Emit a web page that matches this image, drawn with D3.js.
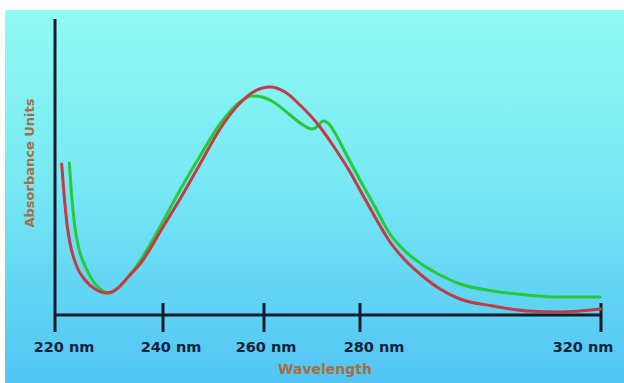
<!DOCTYPE html>
<html><head><meta charset="utf-8">
<script src="https://cdn.jsdelivr.net/npm/d3@7"></script>
<style>html,body{margin:0;padding:0;background:#fff;}svg{display:block;}</style>
</head><body>
<svg id="chart" width="624" height="383"></svg>
<script>
// ---- data ----
const tickValues = [220, 240, 260, 280, 320];
const tickLabels = ["220 nm", "240 nm", "260 nm", "280 nm", "320 nm"];
const xTitle = "Wavelength";
const yTitle = "Absorbance Units";

const redWavelength = [221.24, 221.67, 222.22, 222.78, 224.07, 225.56, 227.41, 229.63, 231.67, 233.52, 235.74, 240, 243.37, 247.33, 251.29, 255.25, 258.22, 261.25, 264.38, 267.5, 271.67, 273.75, 275.83, 277.92, 280, 282.49, 284.98, 287.47, 289.96, 293.28, 296.6, 302.07, 307.72, 313.2, 320];
const redAbsorbance = [0.755, 0.605, 0.455, 0.36, 0.24, 0.175, 0.13, 0.11, 0.135, 0.19, 0.255, 0.44, 0.58, 0.755, 0.93, 1.06, 1.12, 1.14, 1.115, 1.05, 0.94, 0.87, 0.795, 0.715, 0.625, 0.49, 0.365, 0.275, 0.205, 0.13, 0.08, 0.045, 0.02, 0.015, 0.03];

const greenWavelength = [222.65, 223.06, 223.61, 224.44, 225.56, 227.04, 228.89, 230.19, 232.04, 235.74, 239.44, 243.37, 247.33, 251.29, 255.25, 257.62, 259.6, 262.29, 265.42, 268.13, 270, 271.25, 272.29, 273.33, 274.79, 276.88, 280, 282.49, 284.98, 287.47, 289.96, 293.28, 296.6, 302.07, 307.72, 313.2, 319.83];
const greenAbsorbance = [0.76, 0.605, 0.455, 0.33, 0.245, 0.17, 0.12, 0.11, 0.145, 0.27, 0.44, 0.625, 0.795, 0.955, 1.065, 1.095, 1.09, 1.06, 1.0, 0.95, 0.93, 0.945, 0.97, 0.96, 0.91, 0.815, 0.675, 0.54, 0.405, 0.32, 0.26, 0.2, 0.155, 0.12, 0.10, 0.09, 0.09];

// ---- layout ----
const svg = d3.select("#chart");
const W = 624, H = 383;
const labelDx = [9, 8, 2, 14, -18];

const defs = svg.append("defs");
const grad = defs.append("linearGradient").attr("id", "bg").attr("x1", 0).attr("y1", 0).attr("x2", 0).attr("y2", 1);
grad.append("stop").attr("offset", "0%").attr("stop-color", "#90fbf2");
grad.append("stop").attr("offset", "45%").attr("stop-color", "#78e9f4");
grad.append("stop").attr("offset", "100%").attr("stop-color", "#51c4f4");

svg.append("rect").attr("x", 5).attr("y", 10).attr("width", W - 5).attr("height", H - 10).attr("fill", "url(#bg)");

const x = d3.scaleLinear().domain(tickValues).range([55, 163, 264, 360, 601]);
const y = d3.scaleLinear().domain([0, 1.48]).range([315, 19]);

const axisColor = "#101c2c";

// y axis
svg.append("line").attr("x1", x(220)).attr("x2", x(220)).attr("y1", y(1.48)).attr("y2", y(0) + 17)
  .attr("stroke", axisColor).attr("stroke-width", 3);
// x axis
svg.append("line").attr("x1", x(220)).attr("x2", x(320)).attr("y1", y(0)).attr("y2", y(0))
  .attr("stroke", axisColor).attr("stroke-width", 3);
// ticks
svg.selectAll(".tick").data(tickValues.slice(1)).enter().append("line")
  .attr("x1", d => x(d)).attr("x2", d => x(d)).attr("y1", y(0) - 12).attr("y2", y(0) + 17)
  .attr("stroke", axisColor).attr("stroke-width", 3);

// tick labels
svg.selectAll(".tl").data(tickValues).enter().append("text")
  .attr("x", (d, i) => x(d) + labelDx[i]).attr("y", 352)
  .attr("text-anchor", "middle")
  .attr("font-family", "DejaVu Sans, sans-serif").attr("font-weight", "bold").attr("font-size", 14.5)
  .attr("fill", "#12243a")
  .text((d, i) => tickLabels[i]);

// titles
svg.append("text").attr("x", 325).attr("y", 374).attr("text-anchor", "middle")
  .attr("font-family", "DejaVu Sans, sans-serif").attr("font-weight", "bold").attr("font-size", 14)
  .attr("fill", "#a86d42").text(xTitle);
svg.append("text").attr("transform", "translate(34,163) rotate(-90)").attr("text-anchor", "middle")
  .attr("font-family", "DejaVu Sans, sans-serif").attr("font-weight", "bold").attr("font-size", 13)
  .attr("fill", "#a86d42").text(yTitle);

// curves
const line = d3.line().x(d => x(d[0])).y(d => y(d[1])).curve(d3.curveMonotoneX);
const redData = redWavelength.map((w, i) => [w, redAbsorbance[i]]);
const greenData = greenWavelength.map((w, i) => [w, greenAbsorbance[i]]);

svg.append("path").datum(greenData).attr("d", line).attr("fill", "none")
  .attr("stroke", "#28c83c").attr("stroke-width", 3).attr("stroke-linecap", "round");
svg.append("path").datum(redData).attr("d", line).attr("fill", "none")
  .attr("stroke", "#c23a44").attr("stroke-width", 3).attr("stroke-linecap", "round");
</script>
</body></html>
